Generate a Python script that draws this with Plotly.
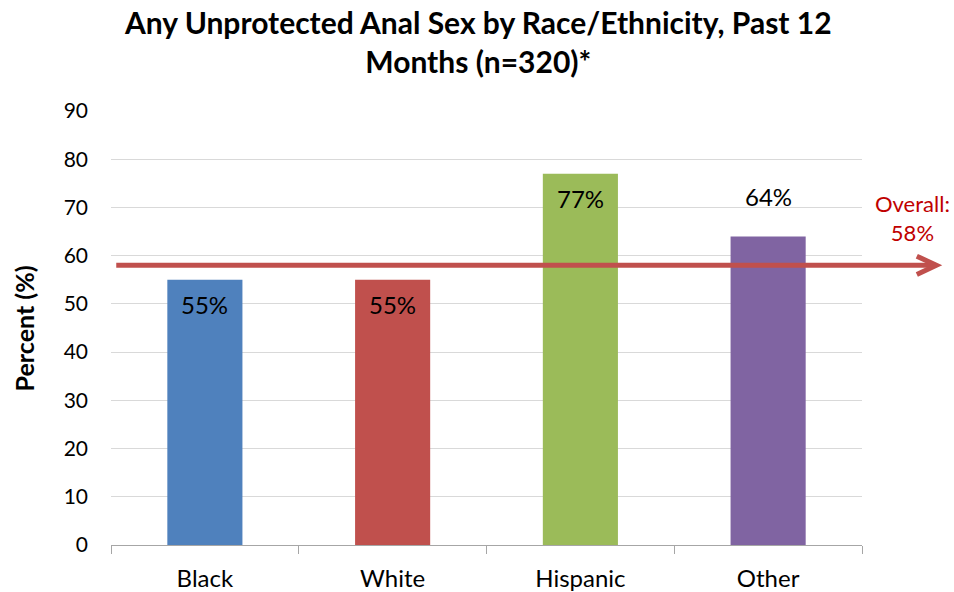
import plotly.graph_objects as go

# Share reporting any unprotected anal sex in the past 12 months, by race/ethnicity
categories = ["Black", "White", "Hispanic", "Other"]
percents = [55, 55, 77, 64]
overall = 58
bar_colors = ["#4F81BD", "#C0504D", "#9BBB59", "#8064A2"]
y_ticks = [0, 10, 20, 30, 40, 50, 60, 70, 80, 90]

FONT = "Lato"

fig = go.Figure(
    go.Bar(
        x=categories,
        y=percents,
        width=0.4,
        marker=dict(color=bar_colors, line=dict(width=0)),
        hoverinfo="skip",
    )
)

# value labels: inside the top of the bar, except the last one which sits above it
label_shift = [-25, -25, -25, 40]
for cat, val, dy in zip(categories, percents, label_shift):
    fig.add_annotation(
        x=cat, y=val, yshift=dy, text=f"{val}%", showarrow=False,
        font=dict(family=FONT, size=24, color="#000000"),
        xanchor="center", yanchor="middle",
    )

# overall reference arrow, running past the plot area on the right
fig.add_shape(
    type="line", xref="paper", yref="y",
    x0=0.007, x1=1.098, y0=overall, y1=overall,
    line=dict(color="#C0504D", width=5),
)
fig.add_shape(
    type="path", xref="paper", yref="y",
    path=(f"M 1.073 {overall + 1.9} L 1.099 {overall} L 1.073 {overall - 1.9}"),
    line=dict(color="#C0504D", width=5),
)
fig.add_annotation(
    xref="paper", x=1.0666, y=overall, yshift=47,
    text=f"Overall:<br>{overall}%", showarrow=False,
    font=dict(family=FONT, size=22, color="#C00000"),
    xanchor="center", yanchor="middle", align="center",
)

# chart title
fig.add_annotation(
    xref="paper", yref="paper", x=0.4887, y=1.159,
    text="<b>Any Unprotected Anal Sex by Race/Ethnicity, Past 12<br>Months (n=320)*</b>",
    showarrow=False, xanchor="center", yanchor="middle", align="center",
    font=dict(family=FONT, size=30, color="#000000"),
)

# y-axis title
fig.add_annotation(
    xref="paper", yref="paper", x=-0.1165, y=0.498,
    text="<b>Percent (%)</b>", textangle=-90, showarrow=False,
    font=dict(family=FONT, size=25, color="#000000"),
    xanchor="center", yanchor="middle",
)

fig.update_layout(
    width=954, height=592,
    margin=dict(l=111, r=92, t=111, b=47),
    plot_bgcolor="#FFFFFF", paper_bgcolor="#FFFFFF",
    showlegend=False,
    font=dict(family=FONT, color="#000000"),
)

fig.update_xaxes(
    type="category", automargin=False,
    showline=True, linecolor="#A6A6A6", linewidth=1,
    ticks="outside", tickson="boundaries", ticklen=8, tickcolor="#A6A6A6",
    tickfont=dict(family=FONT, size=24, color="#000000"),
    ticklabelstandoff=12,
    showgrid=False,
)
fig.update_yaxes(
    range=[0, 90], tickvals=y_ticks, automargin=False,
    showline=False, zeroline=False,
    showgrid=True, gridcolor="#D9D9D9", gridwidth=1,
    tickfont=dict(family=FONT, size=21, color="#000000"),
    ticklabelstandoff=22,
)

fig.write_html("out.html")
